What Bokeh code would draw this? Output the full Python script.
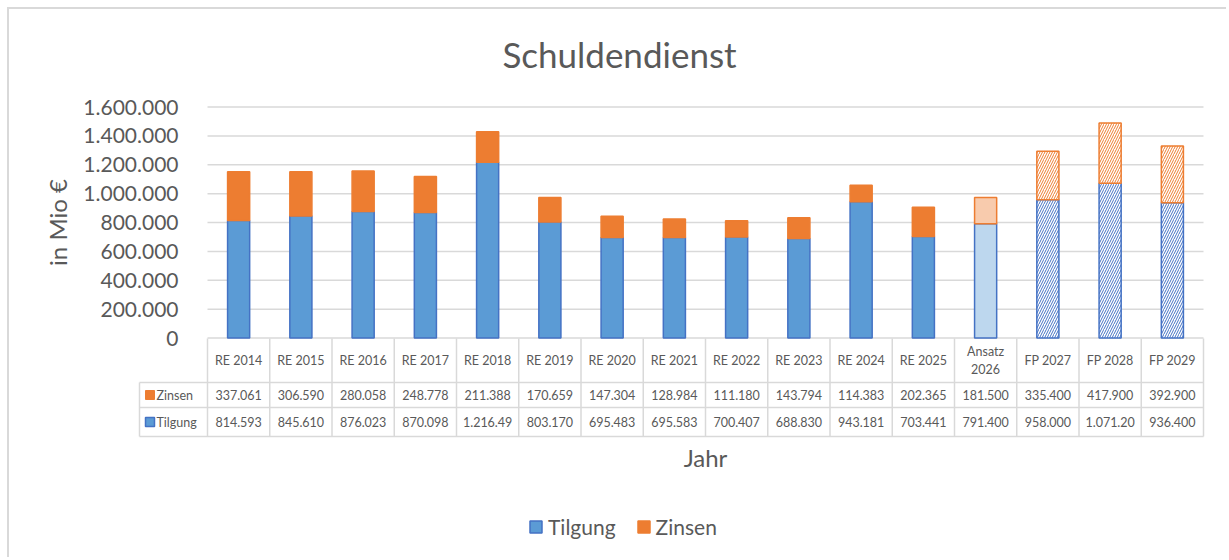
import math
from bokeh.plotting import figure
from bokeh.models import ColumnDataSource, Range1d, FixedTicker, Legend, LegendItem
from bokeh.transform import stack
from bokeh.core.properties import value
from bokeh.embed import file_html
from bokeh.resources import INLINE

# ---------------- data ----------------
categories = ["RE 2014", "RE 2015", "RE 2016", "RE 2017", "RE 2018", "RE 2019",
              "RE 2020", "RE 2021", "RE 2022", "RE 2023", "RE 2024", "RE 2025",
              "Ansatz\n2026", "FP 2027", "FP 2028", "FP 2029"]
tilgung = [814593, 845610, 876023, 870098, 1216490, 803170, 695483, 695583,
           700407, 688830, 943181, 703441, 791400, 958000, 1071200, 936400]
zinsen = [337061, 306590, 280058, 248778, 211388, 170659, 147304, 128984,
          111180, 143794, 114383, 202365, 181500, 335400, 417900, 392900]
bar_kind = ["ist"] * 12 + ["ansatz"] + ["plan"] * 3
y_ticks = [0, 200000, 400000, 600000, 800000, 1000000, 1200000, 1400000, 1600000]
y_tick_labels = ["0", "200.000", "400.000", "600.000", "800.000", "1.000.000",
                 "1.200.000", "1.400.000", "1.600.000"]
series_names = ["Tilgung", "Zinsen"]
title_text = "Schuldendienst"
y_title = "in Mio €"
x_title = "Jahr"

# ---------------- styles / layout ----------------
FONT = "Lato"
TXT = "#595959"
GRID = "#d9d9d9"
BLUE, BLUE_LINE, BLUE_LIGHT = "#5B9BD5", "#4472C4", "#BDD7EE"
ORANGE, ORANGE_LIGHT = "#ED7D31", "#F8CBAD"

ORIGIN = 9                      # canvas origin in page px (7px margin + 2px border)
W, H = 1219, 550
F_LEFT, F_TOP = 20, ORIGIN      # frame in page px
F_RIGHT, F_BOTTOM = ORIGIN + W, ORIGIN + H
CAT0, CATW = 207, 62.25         # first category left edge, width
ZERO_Y = 337.5
K = 231.0 / 1600000             # px per unit
TICK_RIGHT = 178                # right edge of the y tick labels
TABLE_LEFT = 139

fill_t = {"ist": BLUE, "ansatz": BLUE_LIGHT, "plan": "white"}
fill_z = {"ist": ORANGE, "ansatz": ORANGE_LIGHT, "plan": "white"}
hatch = {"ist": " ", "ansatz": " ", "plan": "/"}


def de(v):
    return f"{v:,}".replace(",", ".")[:8]


n = len(categories)
xs = [i + 0.5 for i in range(n)]
src = ColumnDataSource(dict(
    x=xs, tilgung=tilgung, zinsen=zinsen,
    t_fill=[fill_t[k] for k in bar_kind],
    z_fill=[fill_z[k] for k in bar_kind],
    hatch=[hatch[k] for k in bar_kind],
))

p = figure(width=W, height=H, output_backend="svg", toolbar_location=None,
           x_range=Range1d((F_LEFT - CAT0) / CATW, (F_RIGHT - CAT0) / CATW),
           y_range=Range1d(-(F_BOTTOM - ZERO_Y) / K, (ZERO_Y - F_TOP) / K),
           x_axis_location=None, y_axis_location="left",
           min_border_left=F_LEFT - ORIGIN, min_border_right=0,
           min_border_top=0, min_border_bottom=0)
p.extra_x_ranges = {"px": Range1d(F_LEFT, F_RIGHT)}
p.extra_y_ranges = {"py": Range1d(F_BOTTOM, F_TOP)}
p.outline_line_color = None
p.grid.visible = False
p.background_fill_color = "white"
p.border_fill_color = "white"
p.styles = {"margin-left": "7px", "margin-top": "7px",
            "border-left": "2px solid #d9d9d9", "border-top": "2px solid #d9d9d9"}

# y axis (tick labels drawn inside the frame area)
ax = p.yaxis[0]
ax.ticker = FixedTicker(ticks=y_ticks)
ax.bounds = (y_ticks[0], y_ticks[-1])
ax.major_label_overrides = {t: l for t, l in zip(y_ticks, y_tick_labels)}
ax.axis_line_color = None
ax.major_tick_line_color = None
ax.minor_tick_line_color = None
ax.major_tick_out = 0
ax.major_tick_in = 0
ax.major_label_standoff = -(TICK_RIGHT - F_LEFT)
ax.major_label_text_font = FONT
ax.major_label_text_font_size = "21px"
ax.major_label_text_color = TXT

# title and y title
p.text(x=[619], y=[53], text=[title_text], text_font=value(FONT), text_font_size="35px",
       text_color=TXT, text_align="center", text_baseline="middle",
       x_range_name="px", y_range_name="py")
p.text(x=[57], y=[(y_ticks[0] + y_ticks[-1]) / 2], text=[y_title], angle=math.pi / 2,
       text_font=value(FONT), text_font_size="24px", text_color=TXT,
       text_align="center", text_baseline="middle", x_range_name="px")

# gridlines
p.segment(x0=0, x1=n, y0=y_ticks, y1=y_ticks, line_color=GRID, line_width=1.5)

# bars
bw = 0.355
rb = p.vbar(x="x", width=bw, bottom=0, top="tilgung", source=src,
            fill_color="t_fill", line_color=BLUE_LINE, line_width=1.5,
            hatch_pattern="hatch", hatch_color=BLUE_LINE, hatch_scale=5, hatch_weight=1)
rz = p.vbar(x="x", width=bw, bottom=stack("tilgung"), top=stack("tilgung", "zinsen"), source=src,
            fill_color="z_fill", line_color=ORANGE, line_width=1.5,
            hatch_pattern="hatch", hatch_color=ORANGE, hatch_scale=5, hatch_weight=1)

# data table
HDR_Y, ROW1_Y, ROW2_Y = 360, 394.5, 421.5
p.segment(x0=TABLE_LEFT, x1=CAT0 + n * CATW, y0=[382, 407, 436], y1=[382, 407, 436],
          x_range_name="px", y_range_name="py", line_color=GRID, line_width=1.5)
p.segment(x0=list(range(n + 1)), x1=list(range(n + 1)), y0=338, y1=436,
          y_range_name="py", line_color=GRID, line_width=1.5)
p.segment(x0=TABLE_LEFT, x1=TABLE_LEFT, y0=382, y1=436,
          x_range_name="px", y_range_name="py", line_color=GRID, line_width=1.5)

tstyle = dict(text_font=value(FONT), text_font_size="12.5px", text_color=TXT,
              text_align="center", text_baseline="middle", y_range_name="py")
p.text(x=xs, y=[HDR_Y] * n, text=categories, text_line_height=1.15, **tstyle)
p.text(x=xs, y=[ROW1_Y] * n, text=[de(v) for v in zinsen], **tstyle)
p.text(x=xs, y=[ROW2_Y] * n, text=[de(v) for v in tilgung], **tstyle)

# row headers with keys
p.rect(x=[149.5], y=[ROW1_Y], width=9, height=9, width_units="screen", height_units="screen",
       fill_color=ORANGE, line_color=ORANGE, x_range_name="px", y_range_name="py")
p.rect(x=[149.5], y=[ROW2_Y], width=9, height=9, width_units="screen", height_units="screen",
       fill_color=BLUE, line_color=BLUE_LINE, line_width=1.5, x_range_name="px", y_range_name="py")
p.text(x=[156, 156], y=[ROW1_Y, ROW2_Y], text=[series_names[1], series_names[0]],
       text_font=value(FONT), text_font_size="12.5px", text_color=TXT,
       text_align="left", text_baseline="middle", x_range_name="px", y_range_name="py")

# x title
p.text(x=[705], y=[457], text=[x_title], text_font=value(FONT), text_font_size="24px",
       text_color=TXT, text_align="center", text_baseline="middle",
       x_range_name="px", y_range_name="py")

# legend
legend = Legend(items=[LegendItem(label=series_names[0], renderers=[rb], index=0),
                       LegendItem(label=series_names[1], renderers=[rz], index=0)],
                location=(528 - F_LEFT, F_BOTTOM - 539), orientation="horizontal",
                glyph_width=15, glyph_height=15, label_standoff=5, spacing=20,
                padding=0, margin=0, border_line_alpha=0, background_fill_alpha=0,
                label_text_font=FONT, label_text_font_size="21px", label_text_color=TXT)
p.add_layout(legend)

open("out.html", "w").write(file_html(p, INLINE))
